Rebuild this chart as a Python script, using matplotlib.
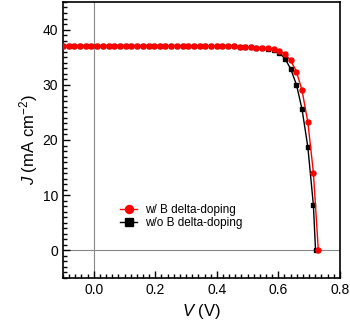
import matplotlib
matplotlib.use("Agg")
import matplotlib.pyplot as plt
from matplotlib.ticker import MultipleLocator

plt.rcParams['font.family'] = ['Liberation Sans', 'DejaVu Sans']
plt.rcParams['mathtext.fontset'] = 'custom'
plt.rcParams['mathtext.rm'] = 'Liberation Sans'
plt.rcParams['mathtext.it'] = 'Liberation Sans:italic'

# measured J-V sweep (V in volts)
v_common = [-0.100, -0.082, -0.063, -0.045, -0.026, -0.008, 0.011, 0.030,
            0.048, 0.067, 0.085, 0.104, 0.122, 0.141, 0.159, 0.178, 0.196,
            0.215, 0.233, 0.252, 0.270, 0.289, 0.307, 0.326, 0.344, 0.363,
            0.381, 0.400, 0.418, 0.437, 0.455, 0.474, 0.492, 0.511, 0.529,
            0.548, 0.566, 0.585, 0.603, 0.622, 0.640, 0.659, 0.677, 0.696,
            0.714]

v_with = v_common + [0.730]
j_with = [37.1, 37.1, 37.1, 37.1, 37.1, 37.1, 37.1, 37.1,
          37.1, 37.1, 37.1, 37.1, 37.1, 37.1, 37.1, 37.1, 37.1,
          37.1, 37.1, 37.1, 37.1, 37.0, 37.0, 37.0, 37.0, 37.0,
          37.0, 37.0, 37.0, 37.0, 37.0, 36.9, 36.9, 36.8, 36.7,
          36.7, 36.6, 36.4, 36.1, 35.6, 34.4, 32.4, 29.0, 23.2,
          14.1, 0.0]

v_without = v_common + [0.721]
j_without = [37.1, 37.1, 37.1, 37.1, 37.1, 37.1, 37.1, 37.1,
             37.1, 37.1, 37.1, 37.1, 37.1, 37.1, 37.1, 37.1, 37.1,
             37.1, 37.1, 37.1, 37.1, 37.0, 37.0, 37.0, 37.0, 37.0,
             37.0, 37.0, 37.0, 37.0, 37.0, 36.9, 36.9, 36.8, 36.7,
             36.6, 36.5, 36.3, 35.8, 34.7, 32.9, 30.0, 25.6, 18.7,
             8.2, 0.0]

fig = plt.figure(figsize=(3.5, 3.29), dpi=100)
ax = fig.add_axes([0.18, 0.155, 0.791, 0.839])

ax.axvline(0, color='#888888', lw=0.8, zorder=1)
ax.axhline(0, color='#888888', lw=0.8, zorder=1)

l_wo, = ax.plot(v_without, j_without, '-s', color='black', lw=1.0,
                ms=3.2, label='w/o B delta-doping', zorder=3)
l_w, = ax.plot(v_with, j_with, '-o', color='red', lw=1.0,
               ms=3.6, label='w/ B delta-doping', zorder=4)

ax.set_xlim(-0.1, 0.8)
ax.set_ylim(-5, 45)
ax.xaxis.set_major_locator(MultipleLocator(0.2))
ax.xaxis.set_minor_locator(MultipleLocator(0.02))
ax.yaxis.set_major_locator(MultipleLocator(10))
ax.yaxis.set_minor_locator(MultipleLocator(1))
ax.tick_params(which='both', direction='in', top=False, right=False,
               labelsize=10, width=1.0)
ax.tick_params(which='major', length=5)
ax.tick_params(which='minor', length=3)
for s in ax.spines.values():
    s.set_linewidth(1.2)

ax.set_xlabel('$V$ (V)', fontsize=12, labelpad=4)
ax.set_ylabel('$J$ (mA cm$^{-2}$)', fontsize=12, labelpad=2)

ax.legend(handles=[l_w, l_wo], loc='lower left',
          bbox_to_anchor=(0.19, 0.16), frameon=False, fontsize=8.5,
          handlelength=1.4, handletextpad=0.7, labelspacing=0.1,
          borderaxespad=0, markerscale=1.6)

fig.savefig('out.png', dpi=100)
